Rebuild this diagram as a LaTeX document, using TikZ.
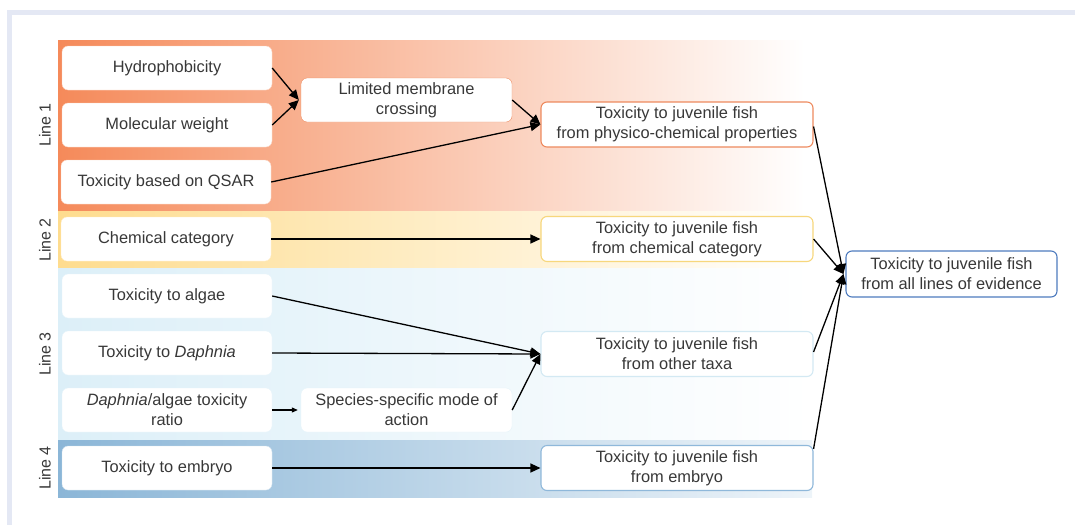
\documentclass[tikz,border=0pt]{standalone}
\usepackage{fontspec}
\setmainfont{Liberation Sans}
\usetikzlibrary{arrows.meta}
\definecolor{frame}{HTML}{E4E8F4}
\definecolor{cA}{HTML}{F58A5A}
\definecolor{cB}{HTML}{FEDC8E}
\definecolor{cC}{HTML}{DCEFF8}
\definecolor{cD}{HTML}{8BB6D7}
\definecolor{bA}{HTML}{EE8A5E}
\definecolor{bB}{HTML}{F7D77C}
\definecolor{bC}{HTML}{D3E9F3}
\definecolor{bD}{HTML}{8FB8DA}
\definecolor{bE}{HTML}{4E7BBE}
\definecolor{txt}{HTML}{383838}
\tikzset{
  box/.style={rounded corners=6pt, fill=white, align=center, text=txt,
    font=\fontsize{16.4}{20}\selectfont, inner sep=0pt},
  lbox/.style={box, minimum width=210pt, minimum height=44pt},
  mbox/.style={box, minimum width=211pt, minimum height=44pt},
  rbox/.style={box, minimum width=272pt, minimum height=45pt, line width=1.1pt},
  fbox/.style={box, minimum width=211pt, minimum height=46pt, line width=1.1pt, draw=bE},
  conn/.style={line width=1.3pt, -{Triangle[length=10pt,width=9pt]}},
  sconn/.style={line width=1.1pt, -{Triangle[length=6pt,width=5pt]}},
  linelab/.style={rotate=90, text=txt, font=\fontsize{16}{18}\selectfont},
}
\begin{document}
\begin{tikzpicture}[x=1pt,y=-1pt]
\useasboundingbox (0,0) rectangle (1075,525);
% frame
\fill[frame] (7,10) rectangle (1075,15);
\fill[frame] (7,10) rectangle (12,525);
% bands
\shade[left color=cA, right color=white] (58,40) rectangle (805,211);
\shade[left color=cB, right color=white] (58,211) rectangle (812,268);
\shade[left color=cC, right color=white] (58,268) rectangle (812,440);
\shade[left color=cD, right color=white!85!cD] (58,440) rectangle (812,497);
% line labels
\node[linelab] (l1) at (45,125) {Line 1};
\node[linelab] (l2) at (45,240) {Line 2};
\node[linelab] (l3) at (45,354) {Line 3};
\node[linelab] (l4) at (45,468) {Line 4};
% left boxes
\node[lbox, draw=white!60!cA] (hyd) at (167,68) {Hydrophobicity};
\node[lbox, draw=white!60!cA] (mw) at (167,125) {Molecular weight};
\node[lbox, draw=white!60!cA] (qsar) at (166,182) {Toxicity based on QSAR};
\node[lbox, draw=white!50!cB] (cat) at (166,239) {Chemical category};
\node[lbox, draw=white!30!cC] (alg) at (167,296) {Toxicity to algae};
\node[lbox, draw=white!30!cC] (dap) at (167,353) {Toxicity to \textit{Daphnia}};
\node[lbox, draw=white!30!cC] (rat) at (167,410) {\textit{Daphnia}/algae toxicity\\ratio};
\node[lbox, draw=white!60!cD] (emb) at (167,468) {Toxicity to embryo};
% middle boxes
\node[mbox, draw=bA] (lmc) at (406.5,100) {Limited membrane\\crossing};
\node[mbox, draw=white!30!cC] (ssm) at (406.5,410) {Species-specific mode of\\action};
% right boxes
\node[rbox, draw=bA] (r1) at (677,124.5) {Toxicity to juvenile fish\\from physico-chemical properties};
\node[rbox, draw=bB] (r2) at (677,239) {Toxicity to juvenile fish\\from chemical category};
\node[rbox, draw=bC] (r3) at (677,354) {Toxicity to juvenile fish\\from other taxa};
\node[rbox, draw=bD] (r4) at (677,468) {Toxicity to juvenile fish\\from embryo};
% final
\node[fbox] (fin) at (951.5,274) {Toxicity to juvenile fish\\from all lines of evidence};
% connectors
\draw[conn] (hyd.east) -- ([xshift=-2pt]lmc.west);
\draw[conn] (mw.east) -- ([xshift=-2pt]lmc.west);
\draw[conn] (lmc.east) -- (r1.west);
\draw[conn] (qsar.east) -- (r1.west);
\draw[conn] (cat.east) -- (r2.west);
\draw[conn] (alg.east) -- (r3.west);
\draw[conn] (dap.east) -- (r3.west);
\draw[conn] (ssm.east) -- (r3.west);
\draw[sconn] (rat.east) -- ([xshift=-3pt]ssm.west);
\draw[conn] (emb.east) -- (r4.west);
\draw[conn] ([yshift=-2pt]r1.east) -- ([xshift=-2pt]fin.west);
\draw[conn] (r2.east) -- ([xshift=-2pt]fin.west);
\draw[conn] ([yshift=2pt]r3.east) -- ([xshift=-2pt]fin.west);
\draw[conn] ([yshift=-4pt]r4.north east) -- ([xshift=-2pt]fin.west);
\end{tikzpicture}
\end{document}
